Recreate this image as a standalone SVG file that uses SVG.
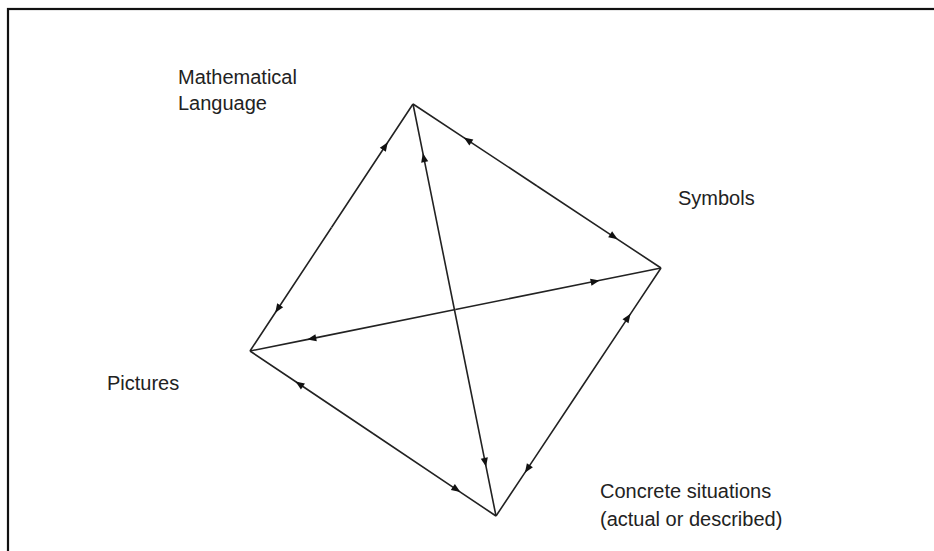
<svg xmlns="http://www.w3.org/2000/svg" width="934" height="551" viewBox="0 0 934 551">
<style>
.e{stroke:#222;stroke-width:1.6;fill:none;marker-mid:url(#ah)}
.t{font-family:"Liberation Sans",Arial,sans-serif;font-size:20px;fill:#222}
</style>
<defs>
<marker id="ah" viewBox="0 0 10 10" refX="5" refY="5" markerWidth="10" markerHeight="9" markerUnits="userSpaceOnUse" orient="auto">
<path d="M0,1 L10,5 L0,9 Z" fill="#111"/>
</marker>
</defs>
<rect x="8" y="9" width="940" height="560" fill="#fff" stroke="#111" stroke-width="2.2"/>
<g id="connectors">
<path class="e" d="M331.5,227.5 L385.3,146 L413,104"/>
<path class="e" d="M331.5,227.5 L277.7,309 L250,351"/>
<path class="e" d="M537,186 L467.6,140.1 L413,104"/>
<path class="e" d="M537,186 L613.9,236.8 L661,268"/>
<path class="e" d="M454.5,310 L423.8,157.6 L413,104"/>
<path class="e" d="M454.5,310 L485.2,462.4 L496,516"/>
<path class="e" d="M455.5,309.5 L595.2,281.3 L661,268"/>
<path class="e" d="M455.5,309.5 L311.7,338.6 L250,351"/>
<path class="e" d="M373,433.5 L299.2,384 L250,351"/>
<path class="e" d="M373,433.5 L456.6,489.6 L496,516"/>
<path class="e" d="M578.5,392 L527.4,468.9 L496,516"/>
<path class="e" d="M578.5,392 L628,317.6 L661,268"/>
</g>
<g id="math"><text class="t" x="178" y="84">Mathematical</text><text class="t" x="178" y="110">Language</text></g>
<g id="symbols"><text class="t" x="678" y="205">Symbols</text></g>
<g id="pictures"><text class="t" x="107" y="390">Pictures</text></g>
<g id="concrete"><text class="t" x="600" y="498">Concrete situations</text><text class="t" x="600" y="526">(actual or described)</text></g>
</svg>
